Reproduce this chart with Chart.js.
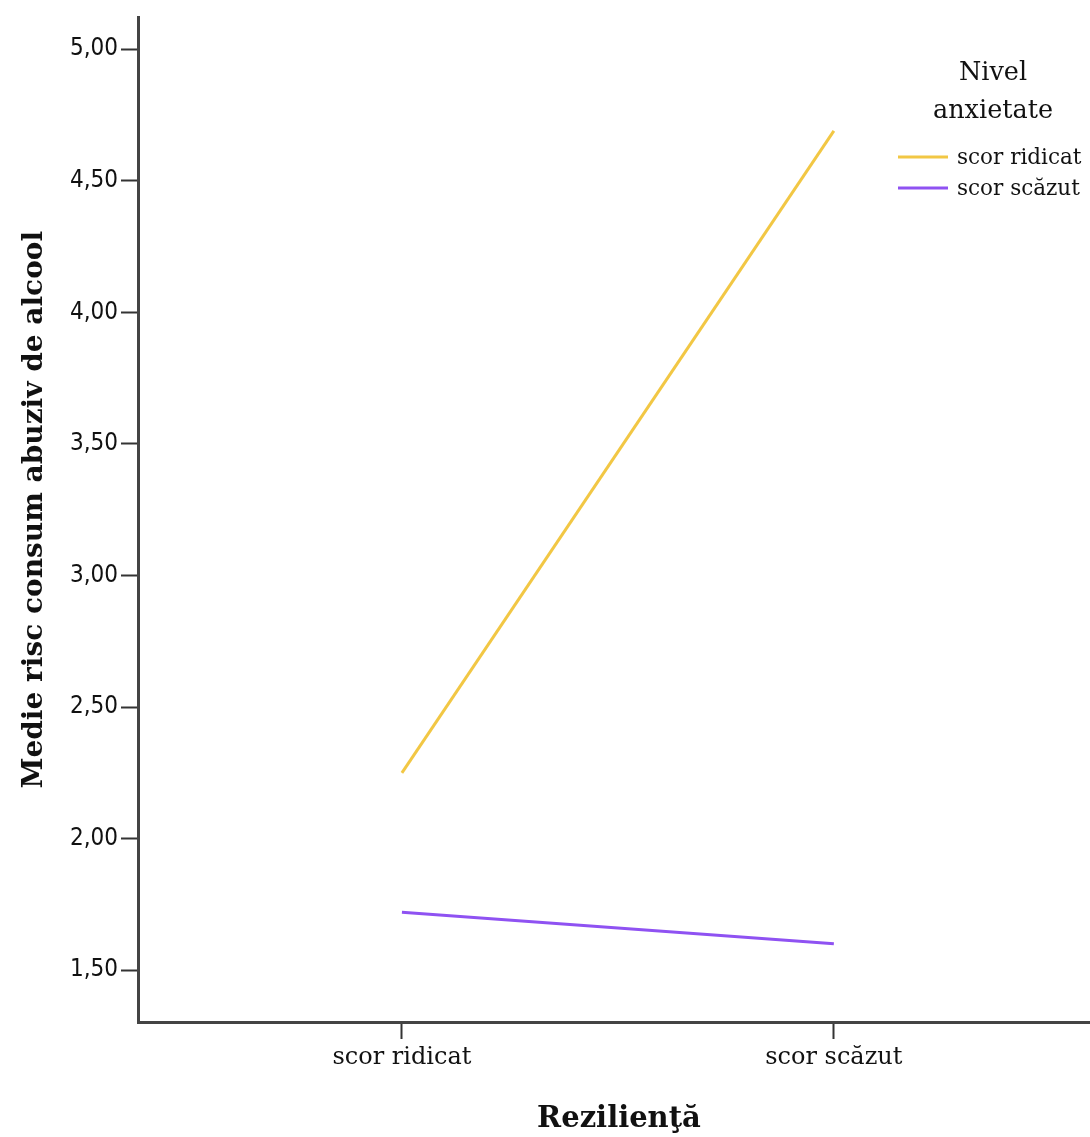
<!DOCTYPE html>
<html>
<head>
<meta charset="utf-8">
<script src="https://cdn.jsdelivr.net/npm/chart.js@4/dist/chart.umd.min.js"></script>
<style>
  html, body { margin: 0; padding: 0; background: #ffffff; overflow: hidden; }
  #wrap { width: 1090px; height: 1137px; }
</style>
</head>
<body>
<div id="wrap"><canvas id="chart" width="1090" height="1137"></canvas></div>
<script>
// Categories on the horizontal axis (Rezilienţă)
const categories = ['scor ridicat', 'scor scăzut'];
// Group labels (Nivel anxietate)
const seriesNames = ['scor ridicat', 'scor scăzut'];
// Mean values per group, one per category
const anxHigh = [2.25, 4.69];
const anxLow = [1.72, 1.60];
// Value-axis ticks
const yTicks = [1.5, 2.0, 2.5, 3.0, 3.5, 4.0, 4.5, 5.0];

const yTitle = 'Medie risc consum abuziv de alcool';
const xTitle = 'Rezilienţă';
const legendTitle = ['Nivel', 'anxietate'];

const colors = ['#f2c744', '#8f52f2'];

function toPoints(vals) {
  return vals.map((v, i) => ({ x: i, y: v }));
}

const seriesValues = [anxHigh, anxLow];

// Draws the axis titles and the legend box
const annotations = {
  id: 'annotations',
  afterDraw(chart) {
    const ctx = chart.ctx;
    const area = chart.chartArea;
    ctx.save();
    ctx.fillStyle = '#111';

    // vertical axis title
    ctx.font = 'bold 28px "DejaVu Serif"';
    ctx.textAlign = 'center';
    ctx.textBaseline = 'alphabetic';
    ctx.save();
    ctx.translate(42, (area.top + area.bottom) / 2 - 10);
    ctx.rotate(-Math.PI / 2);
    ctx.fillText(yTitle, 0, 0);
    ctx.restore();

    // horizontal axis title
    ctx.font = 'bold 29px "DejaVu Serif"';
    ctx.fillText(xTitle, (area.left + area.right) / 2 + 5, 1127);

    // legend
    const cx = 993;
    ctx.font = '25.5px "DejaVu Serif"';
    ctx.fillText(legendTitle[0], cx, 80);
    ctx.fillText(legendTitle[1], cx, 118);

    ctx.font = '21.5px "DejaVu Serif"';
    ctx.textAlign = 'left';
    chart.data.datasets.forEach((ds, i) => {
      const y = 157 + i * 31;
      ctx.strokeStyle = ds.borderColor;
      ctx.lineWidth = 3;
      ctx.beginPath();
      ctx.moveTo(898, y);
      ctx.lineTo(948, y);
      ctx.stroke();
      ctx.fillStyle = '#111';
      ctx.textBaseline = 'middle';
      ctx.fillText(ds.label, 957, y + 1);
    });
    ctx.restore();
  }
};

new Chart(document.getElementById('chart'), {
  type: 'line',
  data: {
    datasets: seriesNames.map((name, i) => ({
      label: name,
      data: toPoints(seriesValues[i]),
      borderColor: colors[i],
      backgroundColor: colors[i],
      borderWidth: 3,
      pointRadius: 0,
      tension: 0,
      fill: false
    }))
  },
  options: {
    responsive: false,
    animation: false,
    events: [],
    layout: { padding: { top: 15, right: 0, left: 0, bottom: 0 } },
    plugins: {
      legend: { display: false },
      tooltip: { enabled: false },
      title: { display: false }
    },
    scales: {
      x: {
        type: 'linear',
        min: -0.611,
        max: 1.593,
        afterBuildTicks: s => { s.ticks = categories.map((c, i) => ({ value: i })); },
        afterFit: s => { s.height = 115; },
        ticks: {
          autoSkip: false,
          maxRotation: 0,
          padding: 4,
          color: '#111',
          font: { family: 'DejaVu Serif', size: 24 },
          callback: v => categories[v]
        },
        grid: {
          drawOnChartArea: false,
          drawTicks: true,
          tickLength: 17,
          tickWidth: 2,
          tickColor: '#333'
        },
        border: { display: true, color: '#444', width: 3 }
      },
      y: {
        type: 'linear',
        min: 1.303,
        max: 5.121,
        afterBuildTicks: s => { s.ticks = yTicks.map(v => ({ value: v })); },
        afterFit: s => { s.width = 138; },
        ticks: {
          autoSkip: false,
          padding: 3,
          color: '#111',
          font: { family: 'DejaVu Sans Condensed', size: 24 },
          callback: v => v.toFixed(2).replace('.', ',')
        },
        grid: {
          drawOnChartArea: false,
          drawTicks: true,
          tickLength: 17,
          tickWidth: 2,
          tickColor: '#333'
        },
        border: { display: true, color: '#444', width: 3 }
      }
    }
  },
  plugins: [annotations]
});
</script>
</body>
</html>
